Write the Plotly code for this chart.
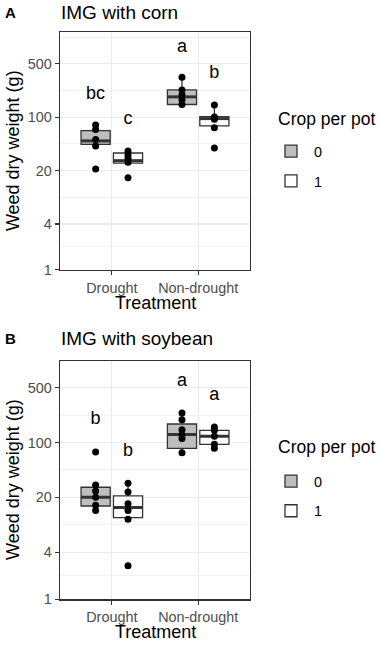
import plotly.graph_objects as go

# ---------------- data ----------------
treatments = ["Drought", "Non-drought"]
crop_levels = ["0", "1"]
y_tickvals = [1, 4, 20, 100, 500]
y_ticktext = ["1", "4", "20", "100", "500"]
y_minor = [2, 8.944, 44.72, 223.6, 1118]

# Panel A: IMG with corn (values per treatment: Drought, Non-drought)
corn0_q1 = [44, 147]
corn0_med = [49, 185]
corn0_q3 = [67, 228]
corn0_lo = [44, 147]
corn0_hi = [79, 333]
corn1_q1 = [25, 77]
corn1_med = [27, 96]
corn1_q3 = [34, 102]
corn1_lo = [25, 73]
corn1_hi = [36, 143]
corn0_pts_drought = [79, 69, 51, 42, 21]
corn0_pts_nondrought = [333, 228, 197, 169, 147]
corn1_pts_drought = [36, 32, 29, 25.7, 16.1]
corn1_pts_nondrought = [145, 101, 94, 73, 39.5]
corn0_letters = ["bc", "a"]
corn0_letter_y = [197, 829]
corn1_letters = ["c", "b"]
corn1_letter_y = [93, 379]

# Panel B: IMG with soybean
soy0_q1 = [15.5, 84.3]
soy0_med = [20.1, 126.5]
soy0_q3 = [26.9, 172.6]
soy0_lo = [13.6, 74.3]
soy0_hi = [28.8, 238]
soy1_q1 = [11.0, 94.7]
soy1_med = [14.8, 120.5]
soy1_q3 = [20.9, 143]
soy1_lo = [10.5, 84.3]
soy1_hi = [30.2, 158]
soy0_pts_drought = [75.7, 28.8, 24, 20, 15.8, 13.6]
soy0_pts_nondrought = [238, 195, 146, 126, 112.6, 74.3]
soy1_pts_drought = [30.2, 23.3, 16.6, 13.6, 10.5, 2.68]
soy1_pts_nondrought = [158, 144, 120, 95, 84.3]
soy0_letters = ["b", "a"]
soy0_letter_y = [196, 594]
soy1_letters = ["b", "a"]
soy1_letter_y = [76.5, 396]

# ---------------- style ----------------
W, H = 383, 649
FONT = "Liberation Sans, Arial, sans-serif"
DODGE = 0.1875
BOXW = 0.3375
FILLS = {"0": "#BEBEBE", "1": "#FFFFFF"}
EDGE = "#333333"
GRID = "#EBEBEB"

def px_x(p):
    return p / W

def px_y(p):
    return 1 - p / H

fig = go.Figure()

panels = [
    dict(xa="x", ya="y", legend="legend",
         groups=[
             ("0", corn0_q1, corn0_med, corn0_q3, corn0_lo, corn0_hi,
              [corn0_pts_drought, corn0_pts_nondrought], corn0_letters, corn0_letter_y),
             ("1", corn1_q1, corn1_med, corn1_q3, corn1_lo, corn1_hi,
              [corn1_pts_drought, corn1_pts_nondrought], corn1_letters, corn1_letter_y),
         ]),
    dict(xa="x2", ya="y2", legend="legend2",
         groups=[
             ("0", soy0_q1, soy0_med, soy0_q3, soy0_lo, soy0_hi,
              [soy0_pts_drought, soy0_pts_nondrought], soy0_letters, soy0_letter_y),
             ("1", soy1_q1, soy1_med, soy1_q3, soy1_lo, soy1_hi,
              [soy1_pts_drought, soy1_pts_nondrought], soy1_letters, soy1_letter_y),
         ]),
]

for pi, p in enumerate(panels):
    for gi, (lvl, q1, med, q3, lo, hi, pts, letters, letter_y) in enumerate(p["groups"]):
        off = -DODGE if lvl == "0" else DODGE
        xs = [i + 1 + off for i in range(len(treatments))]
        fig.add_trace(go.Box(
            x=xs, q1=q1, median=med, q3=q3, lowerfence=lo, upperfence=hi,
            width=BOXW, whiskerwidth=0, fillcolor=FILLS[lvl],
            line=dict(color=EDGE, width=1.3), boxpoints=False,
            name=lvl, legend=p["legend"], legendgroup=f"p{pi}g{lvl}",
            xaxis=p["xa"], yaxis=p["ya"], hoverinfo="skip",
        ))
        # thicker median lines
        mx, my = [], []
        for x, m in zip(xs, med):
            mx += [x - BOXW / 2, x + BOXW / 2, None]
            my += [m, m, None]
        fig.add_trace(go.Scatter(
            x=mx, y=my, mode="lines", line=dict(color=EDGE, width=3),
            showlegend=False, xaxis=p["xa"], yaxis=p["ya"], hoverinfo="skip",
        ))
        # points
        px_, py_ = [], []
        for x, vals in zip(xs, pts):
            px_ += [x] * len(vals)
            py_ += vals
        fig.add_trace(go.Scatter(
            x=px_, y=py_, mode="markers", marker=dict(color="black", size=7),
            showlegend=False, xaxis=p["xa"], yaxis=p["ya"], hoverinfo="skip",
        ))
        # letters
        fig.add_trace(go.Scatter(
            x=xs, y=letter_y, mode="text", text=letters,
            textfont=dict(family=FONT, size=18, color="black"),
            textposition="middle center",
            showlegend=False, xaxis=p["xa"], yaxis=p["ya"], hoverinfo="skip",
        ))

x_dom = [px_x(60), px_x(250)]
domA = [px_y(273.3), px_y(32.3)]
domB = [px_y(606.7), px_y(366)]

common_x = dict(
    range=[0.4, 2.6], tickvals=[1, 2], ticktext=treatments,
    showgrid=True, gridcolor=GRID, gridwidth=1.1, zeroline=False,
    showline=True, mirror=True, linecolor=EDGE, linewidth=1.3,
    ticks="outside", ticklen=4, tickcolor=EDGE, tickwidth=1.1,
    tickfont=dict(family=FONT, size=14.4, color="#4D4D4D"),
    domain=x_dom, fixedrange=True,
)
common_y = dict(
    type="log", tickvals=y_tickvals, ticktext=y_ticktext,
    showgrid=True, gridcolor=GRID, gridwidth=1.1, zeroline=False,
    showline=True, mirror=True, linecolor=EDGE, linewidth=1.3,
    ticks="outside", ticklen=4, tickcolor=EDGE, tickwidth=1.1,
    tickfont=dict(family=FONT, size=14.4, color="#4D4D4D"),
    minor=dict(tickvals=y_minor, showgrid=True, gridcolor=GRID, gridwidth=0.6, ticks=""),
    fixedrange=True,
)

legend_common = dict(
    xanchor="left", yanchor="top",
    font=dict(family=FONT, size=14.4, color="black"),
    bgcolor="rgba(0,0,0,0)", tracegroupgap=8, traceorder="grouped",
    itemwidth=36,
)

fig.update_layout(
    width=W, height=H, autosize=False,
    margin=dict(l=0, r=0, t=0, b=0),
    paper_bgcolor="white", plot_bgcolor="white",
    font=dict(family=FONT, color="black"),
    boxmode="overlay",
    xaxis=dict(common_x, anchor="y"),
    yaxis=dict(common_y, anchor="x", domain=domA, range=[0, 3.118]),
    xaxis2=dict(common_x, anchor="y2"),
    yaxis2=dict(common_y, anchor="x2", domain=domB, range=[0, 3.035]),
    legend=dict(legend_common, x=px_x(268), y=px_y(137)),
    legend2=dict(legend_common, x=px_x(268), y=px_y(471)),
)

annotations = [
    dict(text="<b>A</b>", x=px_x(3), y=px_y(13), font=dict(size=15)),
    dict(text="IMG with corn", x=px_x(59), y=px_y(13), font=dict(size=19)),
    dict(text="<b>B</b>", x=px_x(3), y=px_y(343), font=dict(size=15)),
    dict(text="IMG with soybean", x=px_x(59), y=px_y(343), font=dict(size=19)),
    dict(text="Crop per pot", x=px_x(276), y=px_y(120), font=dict(size=17.5)),
    dict(text="Crop per pot", x=px_x(276), y=px_y(453), font=dict(size=17.5)),
]
for a in annotations:
    a.update(xref="paper", yref="paper", xanchor="left", yanchor="middle", showarrow=False)
    a["font"].update(family=FONT, color="black")

axis_titles = [
    dict(text="Weed dry weight (g)", x=px_x(13), y=px_y(153), textangle=-90),
    dict(text="Treatment", x=px_x(155), y=px_y(307)),
    dict(text="Weed dry weight (g)", x=px_x(13), y=px_y(486), textangle=-90),
    dict(text="Treatment", x=px_x(155), y=px_y(640)),
]
for a in axis_titles:
    a.update(xref="paper", yref="paper", xanchor="center", yanchor="middle",
             showarrow=False, font=dict(family=FONT, size=18, color="black"))

fig.update_layout(annotations=annotations + axis_titles)

fig.write_html(
    "out.html",
    config={"displayModeBar": False, "staticPlot": True},
    post_script="document.body.style.margin='0';document.body.style.overflow='hidden';",
)
